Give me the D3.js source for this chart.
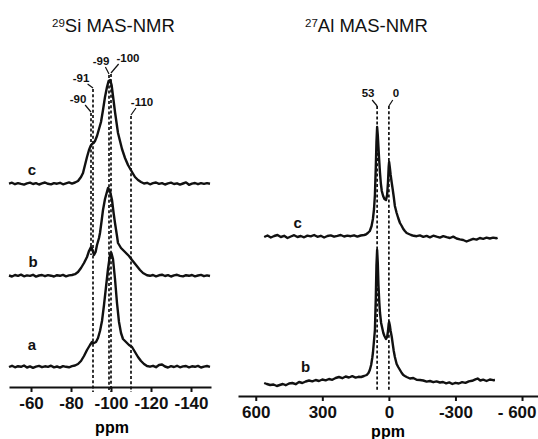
<!DOCTYPE html>
<html>
<head>
<meta charset="utf-8">
<script src="https://cdn.jsdelivr.net/npm/d3@7"></script>
<style>
  body { margin: 0; background: #fff; }
  svg { display: block; font-family: "Liberation Sans", Arial, sans-serif; }
</style>
</head>
<body>
<div id="container"></div>
<script>
// ---- data ----
const siTicks = [-60, -80, -100, -120, -140];
const alTicks = [600, 300, 0, -300, -600];
const alTickLabels = ["600", "300", "0", "-300", "- 600"];

const siMarkers = [-90, -91, -99, -100, -110];
const alMarkers = [53, 0];

// 29Si spectra: [ppm, intensity]
const siA = [[-49,0],[-50.5,1.2],[-52,-0.3],[-53.5,0.8],[-55,0.2],[-56.5,1.5],[-58,-0.5],[-59.5,0.6],[-61,-0.8],[-62.5,0.4],[-64,1.1],[-65.5,-0.2],[-67,0.7],[-68.5,0.1],[-70,1.3],[-71.5,-0.4],[-73,0.5],[-74.5,-0.6],[-76,0.9],[-77.5,0.2],[-79,-0.3],[-80.5,0.8],[-82,1.5],[-83.5,3],[-85,6],[-86.5,11],[-88,17],[-89.5,22],[-90.5,25],[-91.5,24],[-92.5,25],[-93.5,29],[-94.5,36],[-95.5,46],[-96.5,62],[-97.5,80],[-98.5,98],[-99.5,112],[-100.2,114],[-101,108],[-102,88],[-103,64],[-104,45],[-105,34],[-106,28],[-107.5,25],[-109,22],[-110.5,20],[-112,15],[-113.5,10],[-115,6],[-116.5,3],[-118,1],[-119.5,0.3],[-121,1.2],[-122.5,-0.2],[-124,2],[-125.5,2.5],[-127,0.5],[-128.5,-0.5],[-130,0.8],[-131.5,0],[-133,1.2],[-134.5,-0.3],[-136,0.6],[-137.5,1],[-139,-0.4],[-140.5,0.7],[-142,0.2],[-143.5,1.1],[-145,-0.5],[-146.5,0.4],[-148,1],[-149.5,0.2]];
const siB = [[-49,0.5],[-50.5,-0.5],[-52,1],[-53.5,0.2],[-55,1.4],[-56.5,-0.3],[-58,0.6],[-59.5,0.1],[-61,1.2],[-62.5,-0.6],[-64,0.5],[-65.5,1],[-67,-0.2],[-68.5,0.9],[-70,0.3],[-71.5,-0.5],[-73,0.8],[-74.5,0.2],[-76,1.1],[-77.5,-0.3],[-79,0.6],[-80.5,1],[-82,1.8],[-83.5,4],[-85,8],[-86.5,13],[-88,19],[-89,25],[-90,29],[-90.8,26],[-91.5,21],[-92.3,24],[-93,31],[-94,38],[-94.5,43],[-95.3,55],[-96,66],[-97,77],[-98.5,88],[-99.5,85],[-100.5,76],[-101.3,63],[-102,53],[-103,40],[-103.5,33],[-105,28],[-107,24],[-109,20],[-110.5,16],[-112.5,11],[-114.5,6],[-116,3],[-118,0.8],[-119.5,0.2],[-121,1],[-122.5,-0.4],[-124,0.7],[-125.5,1.3],[-127,0],[-128.5,0.9],[-130,-0.5],[-131.5,0.6],[-133,1.2],[-134.5,0.1],[-136,-0.4],[-137.5,0.8],[-139,0.2],[-140.5,1],[-142,-0.3],[-143.5,0.5],[-145,1.1],[-146.5,-0.2],[-148,0.6],[-149.5,0]];
const siC = [[-49,0.4],[-50.5,1.3],[-52,-0.2],[-53.5,0.9],[-55,0.1],[-56.5,-0.6],[-58,0.7],[-59.5,1.4],[-61,0],[-62.5,0.8],[-64,-0.5],[-65.5,0.6],[-67,1.5],[-68.5,0.2],[-70,-0.4],[-71.5,0.9],[-73,0.3],[-74.5,1.2],[-76,-0.3],[-77.5,0.7],[-79,1.6],[-80.5,0.4],[-82,1.5],[-83.5,3],[-85,7],[-86,11],[-87,19],[-88,27],[-89,34],[-89.8,38],[-90.5,40],[-91.3,41],[-92,43],[-93,48],[-94,55],[-95,62],[-96,74],[-97,87],[-98,97],[-98.8,103],[-99.6,104],[-100.3,99],[-101,88],[-102,72],[-103,58],[-103.5,51],[-104.5,43],[-105.5,35],[-107,26],[-108.5,19],[-110.5,12],[-112,7],[-113.5,4],[-115,2],[-116.5,0.5],[-118,1.2],[-119.5,-0.3],[-121,0.8],[-122.5,1.5],[-124,0.2],[-125.5,0.9],[-127,-0.5],[-128.5,0.6],[-130,1.3],[-131.5,0],[-133,0.7],[-134.5,-0.6],[-136,0.5],[-137.5,1.6],[-139,-0.8],[-140.5,0.4],[-142,1],[-143.5,-0.2],[-145,0.8],[-146.5,0.1],[-148,0.9],[-149.5,0.3]];

// 27Al spectra: [ppm, intensity]
const alB = [[562,0],[550,-1],[535,-2],[520,-1.5],[505,-3],[492,-2],[478,-1],[465,-2.2],[450,-0.5],[435,0],[420,-1.2],[405,1],[390,0],[375,1.5],[360,2.5],[345,1.6],[330,3],[315,2],[300,3.5],[285,2.7],[270,4],[255,3.2],[240,5],[225,6],[210,4.8],[195,6.5],[180,5.5],[165,6.8],[150,5.4],[137,6.2],[125,6],[112,7],[100,8],[92,10],[86,13],[80,18],[75,25],[72,30],[68,40],[63,53],[59,85],[56,118],[53,133],[50,120],[47,98],[43,80],[40,70],[35,60],[30,55],[25,50],[20,47],[13,44],[8,46],[4,52],[1,59],[-1,61],[-4,58],[-8,52],[-13,46],[-18,38],[-22,32],[-27,26],[-35,19],[-42,16],[-50,13],[-58,10],[-65,8],[-72,7],[-80,6],[-95,4.5],[-110,5],[-125,3.2],[-140,3],[-155,2.5],[-170,1.4],[-185,2],[-200,0.8],[-215,1.6],[-230,0.5],[-244,1],[-258,-0.3],[-272,0.6],[-286,-1],[-300,0.2],[-315,-0.5],[-330,0.9],[-345,0.1],[-360,1.6],[-375,2.2],[-390,3.6],[-400,4.5],[-412,2.5],[-425,3.3],[-440,2],[-455,3.5],[-470,2.8],[-478,3]];
const alC = [[562,0],[547,1.5],[532,-0.5],[517,1],[502,2],[487,0],[472,1.2],[457,-1],[442,0.5],[427,1.8],[412,0],[397,1],[382,-0.3],[367,1.4],[352,0.6],[337,2],[322,0.2],[307,1.2],[292,-0.5],[277,1],[262,1.6],[247,0.3],[232,1.1],[217,2],[202,0.5],[187,1.4],[172,0.8],[157,1.7],[142,0.4],[127,1.5],[112,2],[104,2.5],[95,4],[86,6],[78,11],[72,18],[67,28],[63,42],[59,70],[56,95],[53,110],[50,102],[47,90],[44,78],[40,64],[36,53],[32,46],[26,41],[20,38],[13,37],[8,42],[4,55],[1,70],[-1,75],[-4,70],[-8,62],[-13,54],[-17,48],[-22,40],[-27,31],[-35,24],[-42,19],[-50,14],[-58,11],[-65,8],[-72,6],[-80,4],[-90,3],[-100,2],[-112,1.2],[-125,0.8],[-140,1.6],[-155,0.2],[-170,1.1],[-185,-0.4],[-200,1.3],[-215,0.3],[-230,-0.6],[-245,0.9],[-260,-0.2],[-275,-1],[-290,0.4],[-305,-1.5],[-320,-2.4],[-335,-3],[-350,-4.5],[-365,-3.2],[-380,-1.8],[-395,-2.6],[-410,-1],[-425,-1.8],[-440,-0.7],[-455,-1.5],[-470,-0.6],[-485,-1.2],[-490,-0.8]];

// ---- layout ----
const svg = d3
  .select("#container")
  .append("svg")
  .attr("width", 538)
  .attr("height", 439);

const siX = d3.scaleLinear().domain([-49, -150]).range([9, 211]);
const siY = d3.scaleLinear().domain([0, 330]).range([387, 57]);
const alX = d3.scaleLinear().domain([680, -672]).range([238, 538]);
const alY = d3.scaleLinear().domain([0, 320]).range([396, 76]);

const tickFont = '"Liberation Sans Narrow", "Liberation Sans", Arial, sans-serif';

const drawAxis = (scale, y, ticks, labels) => {
  const axis = d3
    .axisBottom(scale)
    .tickValues(ticks)
    .tickSize(5)
    .tickSizeOuter(0)
    .tickPadding(5)
    .tickFormat((d, i) => labels[i]);
  const g = svg.append("g").attr("transform", `translate(0,${y})`).call(axis);
  g.attr("font-family", tickFont).attr("font-size", 17).attr("font-weight", "bold");
  g.select(".domain").attr("stroke", "#111").attr("stroke-width", 2.2);
  g.selectAll(".tick line").attr("stroke", "#111").attr("stroke-width", 2);
  g.selectAll(".tick text").attr("fill", "#111");
  return g;
};

drawAxis(siX, 387, siTicks, siTicks.map(String));
const alAxisG = drawAxis(alX, 396, alTicks, alTickLabels);
// keep the last label inside the frame, as in the picture
alAxisG.selectAll(".tick text")
  .filter((d) => d === alTicks[alTicks.length - 1])
  .attr("text-anchor", "end")
  .attr("x", 536 - alX(alTicks[alTicks.length - 1]));

// ppm labels
svg.append("text").attr("x", 112).attr("y", 433).attr("text-anchor", "middle")
  .attr("font-size", 16).attr("font-weight", "bold").text("ppm");
svg.append("text").attr("x", 388).attr("y", 437).attr("text-anchor", "middle")
  .attr("font-size", 16).attr("font-weight", "bold").text("ppm");

// titles
const title = (x, iso, rest) => {
  const t = svg.append("text").attr("x", x).attr("y", 32).attr("font-size", 18.5).attr("fill", "#111");
  t.append("tspan").attr("font-size", 11.5).attr("dy", -5).text(iso);
  t.append("tspan").attr("dy", 5).text(rest);
};
title(52, "29", "Si MAS-NMR");
title(305, "27", "Al MAS-NMR");

// dashed marker lines
const dashed = (x1, y1, y2) =>
  svg.append("line").attr("x1", x1).attr("x2", x1).attr("y1", y1).attr("y2", y2)
    .attr("stroke", "#111").attr("stroke-width", 1.7).attr("stroke-dasharray", "3,2.2");

const leader = (xa, ya, xb, yb) =>
  svg.append("line").attr("x1", xa).attr("y1", ya).attr("x2", xb).attr("y2", yb)
    .attr("stroke", "#111").attr("stroke-width", 1.2);

const markLabel = (x, y, s) =>
  svg.append("text").attr("x", x).attr("y", y).attr("text-anchor", "middle")
    .attr("font-size", 11.5).attr("font-weight", "bold").attr("fill", "#111").text(s);

// per-marker placement: top of line, bottom, label offset, label baseline
const siMarkLayout = [
  { top: 113, bottom: 255, ldx: -13, ly: 103 },
  { top: 89, bottom: 392, ldx: -12, ly: 82 },
  { top: 75, bottom: 392, ldx: -8, ly: 65 },
  { top: 74, bottom: 392, ldx: 17, ly: 62 },
  { top: 116, bottom: 392, ldx: 11, ly: 106 },
];
siMarkers.forEach((p, i) => {
  const m = siMarkLayout[i];
  const x = siX(p);
  dashed(x, m.top, m.bottom);
  leader(x, m.top - 1, x + m.ldx * 0.45, m.ly + 2);
  markLabel(x + m.ldx, m.ly, String(p));
});

const alMarkLayout = [
  { top: 106, bottom: 392, ldx: -9, ly: 97 },
  { top: 106, bottom: 392, ldx: 7, ly: 97 },
];
alMarkers.forEach((p, i) => {
  const m = alMarkLayout[i];
  const x = alX(p);
  dashed(x, m.top, m.bottom);
  leader(x, m.top, x + m.ldx * 0.55, m.ly + 3);
  markLabel(x + m.ldx, m.ly, String(p));
});

// spectra
const drawSpectrum = (x, y, points, offset) =>
  svg
    .append("path")
    .datum(points)
    .attr("d", d3.line().x((d) => x(d[0])).y((d) => y(d[1] + offset)))
    .attr("fill", "none")
    .attr("stroke", "#111")
    .attr("stroke-width", 2.4)
    .attr("stroke-linejoin", "round");

drawSpectrum(siX, siY, siA, 20);
drawSpectrum(siX, siY, siB, 111);
drawSpectrum(siX, siY, siC, 203);
drawSpectrum(alX, alY, alB, 13);
drawSpectrum(alX, alY, alC, 159);

// series letters
const letter = (x, y, s) =>
  svg.append("text").attr("x", x).attr("y", y).attr("text-anchor", "middle")
    .attr("font-size", 15).attr("font-weight", "bold").attr("fill", "#111").text(s);
letter(siX(-60.5), siY(20 + 17), "a");
letter(siX(-61), siY(111 + 9), "b");
letter(siX(-60.5), siY(203 + 9), "c");
letter(alX(375), alY(13 + 11), "b");
letter(alX(411), alY(159 + 9), "c");
</script>
</body>
</html>
